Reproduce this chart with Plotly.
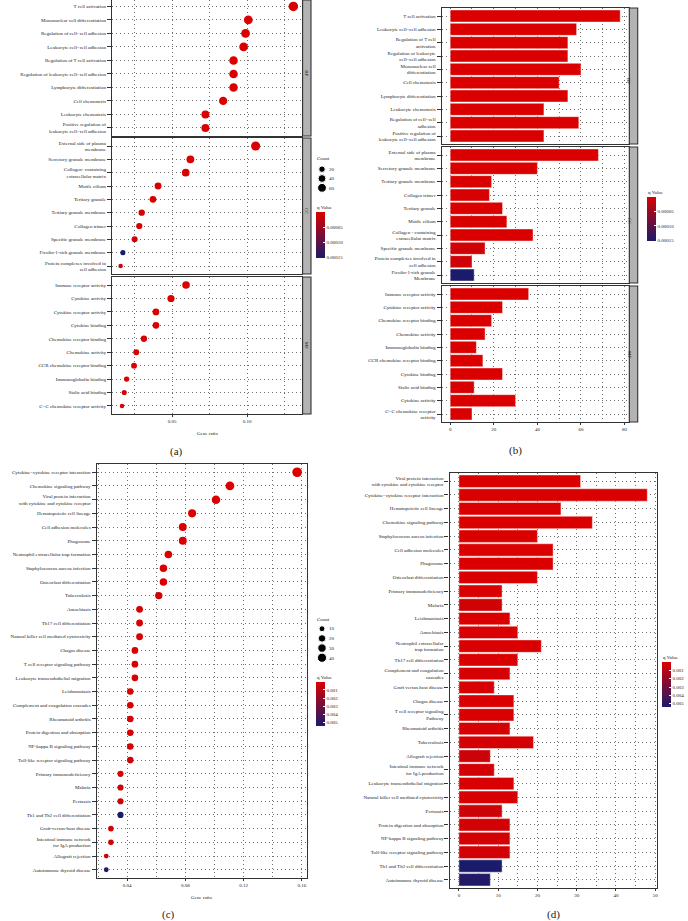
import math
import plotly.graph_objects as go

W, H = 688, 921
RED = "#DA0000"
NAVY = "#1B1B6B"
FONT = "Liberation Serif"
INK = "#222222"
GRID = "#6E6E6E"
DASH = "1px,3px"

# ---------------- Panel (a): GO dot plot ----------------
a_bp_terms = ["T cell activation", "Mononuclear cell differentiation", "Regulation of cell−cell adhesion",
              "Leukocyte cell−cell adhesion", "Regulation of T cell activation",
              "Regulation of leukocyte cell−cell adhesion", "Lymphocyte differentiation", "Cell chemotaxis",
              "Leukocyte chemotaxis", "Positive regulation of<br>leukocyte cell−cell adhesion"]
a_bp_ratio = [0.1307, 0.1007, 0.0989, 0.0976, 0.0909, 0.0909, 0.0909, 0.0840, 0.0722, 0.0722]
a_bp_count = [78, 60, 59, 58, 54, 54, 54, 50, 43, 43]
a_bp_q = [2.1e-11, 3.4e-9, 4.0e-9, 4.6e-9, 1.1e-8, 1.2e-8, 1.3e-8, 2.5e-8, 6.8e-7, 6.8e-7]

a_cc_terms = ["External side of plasma<br>membrane", "Secretory granule membrane",
              "Collagen- containing<br>extracellular matrix", "Motile cilium", "Tertiary granule",
              "Tertiary granule membrane", "Collagen trimer", "Specific granule membrane",
              "Ficolin-1-rich granule membrane", "Protein complexes involved in<br>cell adhesion"]
a_cc_ratio = [0.1056, 0.0622, 0.0591, 0.0407, 0.0373, 0.0298, 0.0282, 0.0251, 0.0173, 0.0158]
a_cc_count = [68, 40, 38, 26, 24, 19, 18, 16, 11, 10]
a_cc_q = [1.6e-10, 2.3e-8, 4.1e-8, 5.2e-7, 3.9e-7, 1.8e-6, 2.6e-6, 8.9e-6, 1.52e-4, 9.7e-6]

a_mf_terms = ["Immune receptor activity", "Cytokine activity", "Cytokine receptor activity", "Cytokine binding",
              "Chemokine receptor binding", "Chemokine activity", "CCR chemokine receptor binding",
              "Immunoglobulin binding", "Sialic acid binding", "C−C chemokine receptor activity"]
a_mf_ratio = [0.0593, 0.0493, 0.0393, 0.0393, 0.0313, 0.0262, 0.0247, 0.0198, 0.0182, 0.0167]
a_mf_count = [36, 30, 24, 24, 19, 16, 15, 12, 11, 10]
a_mf_q = [3.0e-9, 2.2e-8, 1.5e-8, 4.8e-8, 3.1e-8, 2.4e-7, 6.4e-8, 1.9e-6, 4.3e-6, 6.7e-7]

a_count_breaks = [20, 40, 60]
go_q_ticks = [0.00005, 0.00010, 0.00015]

# ---------------- Panel (b): GO bar plot ----------------
b_bp_terms = ["T cell activation", "Leukocyte cell−cell adhesion", "Regulation of T cell<br>activation",
              "Regulation of leukocyte<br>cell−cell adhesion", "Mononuclear cell<br>differentiation",
              "Cell chemotaxis", "Lymphocyte differentiation", "Leukocyte chemotaxis",
              "Regulation of cell−cell<br>adhesion", "Positive regulation of<br>leukocyte cell−cell adhesion"]
b_bp_count = [78, 58, 54, 54, 60, 50, 54, 43, 59, 43]
b_bp_q = [2.1e-11, 4.6e-9, 1.1e-8, 1.2e-8, 3.4e-9, 2.5e-8, 1.3e-8, 6.8e-7, 4.0e-9, 6.8e-7]

b_cc_terms = ["External side of plasma<br>membrane", "Secretory granule membrane", "Tertiary granule membrane",
              "Collagen trimer", "Tertiary granule", "Motile cilium",
              "Collagen - containing<br>extracellular matrix", "Specific granule membrane",
              "Protein complexes involved in<br>cell adhesion", "Ficolin-1-rich granule<br>Membrane"]
b_cc_count = [68, 40, 19, 18, 24, 26, 38, 16, 10, 11]
b_cc_q = [1.6e-10, 2.3e-8, 1.8e-6, 2.6e-6, 3.9e-7, 5.2e-7, 4.1e-8, 8.9e-6, 9.7e-6, 1.52e-4]

b_mf_terms = ["Immune receptor activity", "Cytokine receptor activity", "Chemokine receptor binding",
              "Chemokine activity", "Immunoglobulin binding", "CCR chemokine receptor binding",
              "Cytokine binding", "Sialic acid binding", "Cytokine activity", "C−C chemokine receptor<br>activity"]
b_mf_count = [36, 24, 19, 16, 12, 15, 24, 11, 30, 10]
b_mf_q = [3.0e-9, 1.5e-8, 3.1e-8, 2.4e-7, 1.9e-6, 6.4e-8, 4.8e-8, 4.3e-6, 2.2e-8, 6.7e-7]

# ---------------- Panel (c): KEGG dot plot ----------------
c_terms = ["Cytokine−cytokine receptor interaction", "Chemokine signaling pathway",
           "Viral protein interaction<br>with cytokine and cytokine receptor", "Hematopoietic cell lineage",
           "Cell adhesion molecules", "Phagosome", "Neutrophil extracellular trap formation",
           "Staphylococcus aureus infection", "Osteoclast differentiation", "Tuberculosis", "Amoebiasis",
           "Th17 cell differentiation", "Natural killer cell mediated cytotoxicity", "Chagas disease",
           "T cell receptor signaling pathway", "Leukocyte transendothelial migration", "Leishmaniasis",
           "Complement and coagulation cascades", "Rheumatoid arthritis", "Protein digestion and absorption",
           "NF-kappa B signaling pathway", "Toll-like receptor signaling pathway", "Primary immunodeficiency",
           "Malaria", "Pertussis", "Th1 and Th2 cell differentiation", "Graft-versus-host disease",
           "Intestinal immune network<br>for IgA production", "Allograft rejection", "Autoimmune thyroid disease"]
c_ratio = [0.1568, 0.1106, 0.1010, 0.0846, 0.0782, 0.0782, 0.0683, 0.0649, 0.0649, 0.0617,
           0.0485, 0.0485, 0.0485, 0.0453, 0.0453, 0.0453, 0.0421, 0.0421, 0.0421, 0.0421,
           0.0421, 0.0421, 0.0354, 0.0354, 0.0354, 0.0354, 0.0288, 0.0288, 0.0256, 0.0256]
c_count = [48, 34, 31, 26, 24, 24, 21, 20, 20, 19, 15, 15, 15, 14, 14, 14, 13, 13, 13, 13,
           13, 13, 11, 11, 11, 11, 9, 9, 8, 8]
c_q = [1e-20, 2e-12, 3e-14, 5e-12, 4e-8, 8e-8, 2e-6, 1e-8, 4e-6, 2e-4, 3e-5, 4e-5, 8e-5, 6e-5, 7e-5,
       9e-5, 1.2e-5, 1.1e-4, 1.3e-4, 2.1e-4, 2.2e-4, 2.4e-4, 3e-6, 3.2e-4, 3.6e-4, 5.4e-3, 1.5e-4,
       2.6e-4, 4.1e-4, 5.2e-3]
c_count_breaks = [10, 20, 30, 40]
kegg_q_ticks = [0.001, 0.002, 0.003, 0.004, 0.005]

# ---------------- Panel (d): KEGG bar plot ----------------
d_terms = ["Viral protein interaction<br>with cytokine and cytokine receptor", "Cytokine−cytokine receptor interaction",
           "Hematopoietic cell lineage", "Chemokine signaling pathway", "Staphylococcus aureus infection",
           "Cell adhesion molecules", "Phagosome", "Osteoclast differentiation", "Primary immunodeficiency",
           "Malaria", "Leishmaniasis", "Amoebiasis", "Neutrophil extracellular<br>trap formation",
           "Th17 cell differentiation", "Complement and coagulation<br>cascades", "Graft versus host disease",
           "Chagas disease", "T cell receptor signaling<br>Pathway", "Rheumatoid arthritis", "Tuberculosis",
           "Allograft rejection", "Intestinal immune network<br>for IgA production",
           "Leukocyte transendothelial migration", "Natural killer cell mediated cytotoxicity", "Pertussis",
           "Protein digestion and absorption", "NF-kappa B signaling pathway",
           "Toll-like receptor signaling pathway", "Th1 and Th2 cell differentiation", "Autoimmune thyroid disease"]
d_count = [31, 48, 26, 34, 20, 24, 24, 20, 11, 11, 13, 15, 21, 15, 13, 9, 14, 14, 13, 19,
           8, 9, 14, 15, 11, 13, 13, 13, 11, 8]
d_q = [3e-14, 1e-20, 5e-12, 2e-12, 1e-8, 4e-8, 8e-8, 4e-6, 3e-6, 3.2e-4, 1.2e-5, 3e-5, 2e-6, 4e-5,
       1.1e-4, 1.5e-4, 6e-5, 7e-5, 1.3e-4, 2e-4, 4.1e-4, 2.6e-4, 9e-5, 8e-5, 3.6e-4, 2.1e-4, 2.2e-4,
       2.4e-4, 5.4e-3, 5.2e-3]


# ---------------- helpers ----------------
def dx(x0, x1):
    return [x0 / W, x1 / W]


def dy(y0, y1):
    return [1 - y1 / H, 1 - y0 / H]


def px(x):
    return x / W


def py(y):
    return 1 - y / H


def sizes(vals, vmin, vmax, dmin, span):
    return [dmin + span * math.sqrt((v - vmin) / (vmax - vmin)) for v in vals]


def neg(qs):
    return [-q for q in qs]


tickfont = dict(size=5, family=FONT, color=INK)


def xax(domain, rng, dtick, mdtick, anchor, labels=True, fmt=None):
    d = dict(domain=domain, range=rng, dtick=dtick, tick0=0, anchor=anchor,
             showline=True, mirror=True, linecolor="#333333", linewidth=1.2,
             showgrid=True, gridcolor=GRID, griddash=DASH, gridwidth=0.7,
             minor=dict(dtick=mdtick, tick0=0, showgrid=True, gridcolor=GRID, griddash=DASH,
                        gridwidth=0.7, ticks=""),
             zeroline=False, ticks="outside" if labels else "", ticklen=2, tickcolor="#333333",
             showticklabels=labels, tickfont=tickfont)
    if fmt:
        d["tickformat"] = fmt
    return d


def yax(domain, cats, anchor, top_pad=0.6):
    n = len(cats)
    return dict(domain=domain, anchor=anchor, type="category", categoryorder="array",
                categoryarray=cats, range=[n - 0.4, -top_pad],
                showline=True, mirror=True, linecolor="#333333", linewidth=1.2,
                showgrid=True, gridcolor=GRID, griddash=DASH, gridwidth=0.7, zeroline=False,
                ticks="outside", ticklen=4, tickcolor="#333333", tickfont=tickfont)


def cbar(x, ytop, length, thick, ticks, fmt):
    return dict(x=px(x), xanchor="left", y=py(ytop), yanchor="top", len=length, lenmode="pixels",
                thickness=thick, thicknessmode="pixels", xpad=0, ypad=0, outlinewidth=0,
                tickvals=[-t for t in ticks], ticktext=[fmt.format(t) for t in ticks],
                ticks="inside", ticklen=2, tickcolor="white", tickwidth=0.8,
                tickfont=tickfont, title=dict(text=""))


fig = go.Figure()

# ---- (a) dots ----
a_all = a_bp_count + a_cc_count + a_mf_count
amin, amax = min(a_all), max(a_all)
for i, (terms, ratio, cnt, q) in enumerate([(a_bp_terms, a_bp_ratio, a_bp_count, a_bp_q),
                                            (a_cc_terms, a_cc_ratio, a_cc_count, a_cc_q),
                                            (a_mf_terms, a_mf_ratio, a_mf_count, a_mf_q)]):
    k = "" if i == 0 else str(i + 1)
    fig.add_trace(go.Scatter(x=ratio, y=terms, mode="markers", xaxis="x" + k, yaxis="y" + k,
                             marker=dict(size=sizes(cnt, amin, amax, 4.5, 5.0), color=neg(q), opacity=1,
                                         coloraxis="coloraxis", line=dict(width=0)),
                             showlegend=False, hoverinfo="skip"))

# ---- (b) bars ----
for i, (terms, cnt, q) in enumerate([(b_bp_terms, b_bp_count, b_bp_q),
                                     (b_cc_terms, b_cc_count, b_cc_q),
                                     (b_mf_terms, b_mf_count, b_mf_q)]):
    k = str(i + 4)
    fig.add_trace(go.Bar(x=cnt, y=terms, orientation="h", width=0.9, xaxis="x" + k, yaxis="y" + k,
                         marker=dict(color=neg(q), coloraxis="coloraxis2",
                                     line=dict(color="rgba(255,255,255,0.7)", width=0.6)),
                         showlegend=False, hoverinfo="skip"))

# ---- (c) dots ----
cmin_, cmax_ = min(c_count), max(c_count)
fig.add_trace(go.Scatter(x=c_ratio, y=c_terms, mode="markers", xaxis="x7", yaxis="y7",
                         marker=dict(size=sizes(c_count, cmin_, cmax_, 4.8, 4.9), color=neg(c_q), opacity=1,
                                     coloraxis="coloraxis3", line=dict(width=0)),
                         showlegend=False, hoverinfo="skip"))

# ---- (d) bars ----
fig.add_trace(go.Bar(x=d_count, y=d_terms, orientation="h", width=0.9, xaxis="x8", yaxis="y8",
                     marker=dict(color=neg(d_q), coloraxis="coloraxis4",
                                 line=dict(color="rgba(255,255,255,0.7)", width=0.6)),
                     showlegend=False, hoverinfo="skip"))

# ---- size legends ----
fig.add_trace(go.Scatter(x=[0] * len(a_count_breaks), y=[str(b) for b in a_count_breaks], mode="markers",
                         xaxis="x9", yaxis="y9",
                         marker=dict(size=sizes(a_count_breaks, amin, amax, 4.5, 5.0), color="black", opacity=1),
                         showlegend=False, hoverinfo="skip"))
fig.add_trace(go.Scatter(x=[0] * len(c_count_breaks), y=[str(b) for b in c_count_breaks], mode="markers",
                         xaxis="x10", yaxis="y10",
                         marker=dict(size=sizes(c_count_breaks, cmin_, cmax_, 4.8, 4.9), color="black", opacity=1),
                         showlegend=False, hoverinfo="skip"))

# ---- ranges (ggplot 5% expansion) ----
a_ratios = a_bp_ratio + a_cc_ratio + a_mf_ratio
ar = [min(a_ratios), max(a_ratios)]
ae = 0.05 * (ar[1] - ar[0])
a_range = [ar[0] - ae, ar[1] + ae]
b_max = max(b_bp_count + b_cc_count + b_mf_count)
b_range = [-0.05 * b_max, 1.05 * b_max]
cr = [min(c_ratio), max(c_ratio)]
ce = 0.05 * (cr[1] - cr[0])
c_range = [cr[0] - ce, cr[1] + ce]
d_max = max(d_count)
d_range = [-0.05 * d_max, 1.05 * d_max]

q_go_max = max(a_bp_q + a_cc_q + a_mf_q)
q_kegg_max = max(c_q)
cscale = [[0, NAVY], [1, RED]]

# facet pixel boxes
A_X = (112, 302)
A_Y = [(0, 136), (138, 274), (277, 414)]
B_X = (441.7, 628.7)
B_Y = [(8, 144), (147, 283), (286, 422)]
C_X, C_Y = (96.7, 306.7), (464, 878)
D_X, D_Y = (449.5, 656.7), (473, 888)

layout = dict(
    width=W, height=H, margin=dict(l=0, r=0, t=0, b=0, autoexpand=False),
    paper_bgcolor="white", plot_bgcolor="white", showlegend=False,
    font=dict(family=FONT, size=5, color=INK),
    coloraxis=dict(cmin=-q_go_max, cmax=0, colorscale=cscale,
                   colorbar=cbar(316, 212, 46, 9, go_q_ticks, "{:.5f}")),
    coloraxis2=dict(cmin=-q_go_max, cmax=0, colorscale=cscale,
                    colorbar=cbar(647, 197, 44, 9, go_q_ticks, "{:.5f}")),
    coloraxis3=dict(cmin=-q_kegg_max, cmax=0, colorscale=cscale,
                    colorbar=cbar(316, 681.7, 44.3, 9, kegg_q_ticks, "{:.3f}")),
    coloraxis4=dict(cmin=-q_kegg_max, cmax=0, colorscale=cscale,
                    colorbar=cbar(662, 662, 45, 9, kegg_q_ticks, "{:.3f}")),
)

a_terms_list = [a_bp_terms, a_cc_terms, a_mf_terms]
for i in range(3):
    k = "" if i == 0 else str(i + 1)
    layout["xaxis" + k] = xax(dx(*A_X), a_range, 0.05, 0.025, "y" + k, labels=(i == 2), fmt=".2f")
    layout["yaxis" + k] = yax(dy(*A_Y[i]), a_terms_list[i], "x" + k, top_pad=0.48 if i == 0 else 0.6)

b_terms_list = [b_bp_terms, b_cc_terms, b_mf_terms]
for i in range(3):
    k = str(i + 4)
    layout["xaxis" + k] = xax(dx(*B_X), b_range, 20, 10, "y" + k, labels=(i == 2))
    layout["yaxis" + k] = yax(dy(*B_Y[i]), b_terms_list[i], "x" + k)

layout["xaxis7"] = xax(dx(*C_X), c_range, 0.04, 0.02, "y7", fmt=".2f")
layout["yaxis7"] = yax(dy(*C_Y), c_terms, "x7")
layout["xaxis8"] = xax(dx(*D_X), d_range, 10, 5, "y8")
layout["yaxis8"] = yax(dy(*D_Y), d_terms, "x8")

hidden = dict(showgrid=False, zeroline=False, showline=False, showticklabels=False, ticks="")
layout["xaxis9"] = dict(domain=dx(316, 328), range=[-1, 1], anchor="y9", **hidden)
layout["yaxis9"] = dict(domain=dy(164.5, 192.5), anchor="x9", type="category", side="right",
                        categoryorder="array", categoryarray=[str(b) for b in a_count_breaks],
                        range=[len(a_count_breaks) - 0.5, -0.5], showgrid=False, zeroline=False,
                        showline=False, ticks="", tickfont=tickfont)
layout["xaxis10"] = dict(domain=dx(316, 328), range=[-1, 1], anchor="y10", **hidden)
layout["yaxis10"] = dict(domain=dy(623.9, 662.6), anchor="x10", type="category", side="right",
                         categoryorder="array", categoryarray=[str(b) for b in c_count_breaks],
                         range=[len(c_count_breaks) - 0.5, -0.5], showgrid=False, zeroline=False,
                         showline=False, ticks="", tickfont=tickfont)

# strips
shapes = []
annotations = []
for (sx0, sx1), ys in [((302.6, 311), A_Y), ((629.3, 637.7), B_Y)]:
    for (y0, y1), lab in zip(ys, ["BP", "CC", "MF"]):
        shapes.append(dict(type="rect", xref="paper", yref="paper", x0=px(sx0), x1=px(sx1),
                           y0=py(y1), y1=py(y0), fillcolor="#B3B3B3",
                           line=dict(color="#333333", width=1.1), layer="above"))
        annotations.append(dict(text=lab, x=px((sx0 + sx1) / 2), y=py((y0 + y1) / 2), xref="paper",
                                yref="paper", showarrow=False, textangle=90,
                                font=dict(size=5, family=FONT, color=INK)))


def note(text, x, y, size=5, anchor="center"):
    annotations.append(dict(text=text, x=px(x), y=py(y), xref="paper", yref="paper", showarrow=False,
                            xanchor=anchor, yanchor="middle", font=dict(size=size, family=FONT, color=INK)))


note("Gene ratio", 207, 433)
note("Gene ratio", 201.7, 897)
note("(a)", 176.7, 451.7, size=11)
note("(b)", 515, 450, size=11)
note("(c)", 168, 914, size=11)
note("(d)", 553, 914, size=11)
note("Count", 315, 159, anchor="left")
note("Count", 315, 619, anchor="left")
note("q Value", 315, 207, anchor="left")
note("q Value", 646, 193, anchor="left")
note("q Value", 315, 677.5, anchor="left")
note("q Value", 661, 657.5, anchor="left")

layout["shapes"] = shapes
layout["annotations"] = annotations
fig.update_layout(**layout)
fig.write_html("out.html", config={"displayModeBar": False},
               post_script="document.body.style.margin='0';document.body.style.overflow='hidden';")
